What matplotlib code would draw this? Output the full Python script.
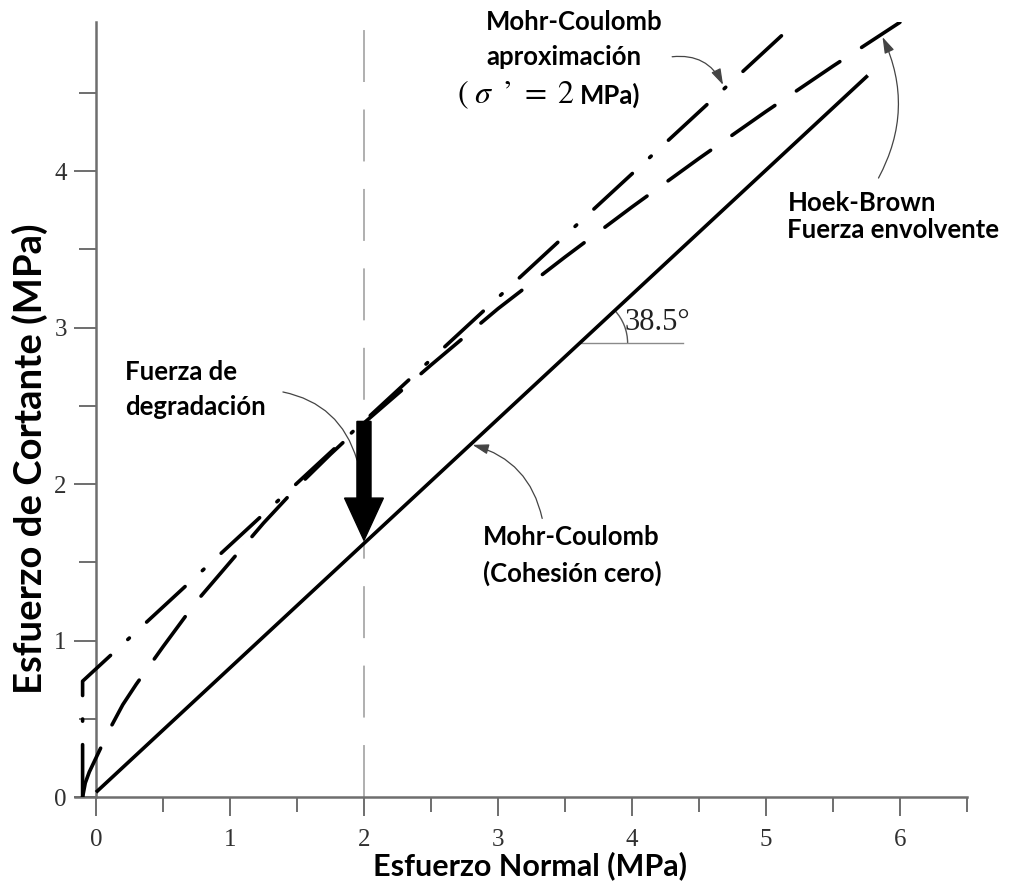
import numpy as np
import matplotlib
matplotlib.use("Agg")
import matplotlib.pyplot as plt
from matplotlib.patches import FancyArrow, Arc
from matplotlib.transforms import ScaledTranslation
from matplotlib.ticker import MultipleLocator

# ---------------- data ----------------
# Mohr-Coulomb, zero cohesion (phi = 38.5 deg)
mc_zero_x = [0.0, 5.76]
mc_zero_y = [0.03, 4.61]

# Mohr-Coulomb approximation tangent at sigma' = 2 MPa (with tension cut-off)
mc_apx_x = [-0.10, -0.10, 5.25]
mc_apx_y = [0.0, 0.74, 4.97]

# Hoek-Brown strength envelope
hb_x = [-0.10, -0.08, -0.05, 0.0, 0.05, 0.10, 0.20, 0.30, 0.40, 0.50, 0.75,
        1.00, 1.25, 1.50, 1.75, 2.00, 2.50, 3.00, 3.50, 4.00, 4.50, 5.00,
        5.50, 6.00]
hb_y = [0.0, 0.09, 0.16, 0.25, 0.34, 0.43, 0.59, 0.72, 0.84, 0.96, 1.25,
        1.50, 1.75, 1.98, 2.19, 2.39, 2.76, 3.12, 3.45, 3.77, 4.08, 4.38,
        4.67, 4.95]

sigma_ref = 2.0            # MPa, vertical reference line
tau_top = 2.40             # tangent MC at sigma_ref
tau_bottom = 1.64          # zero-cohesion MC at sigma_ref
phi_label = "38.5°"

x_major = [0, 1, 2, 3, 4, 5, 6]
y_major = [0, 1, 2, 3, 4]

# ---------------- figure ----------------
fig = plt.figure(figsize=(10.09, 8.93), dpi=100)
ax = fig.add_axes([0.0739, 0.1075, 0.8844, 0.8675])
ax.set_xlim(-0.16, 6.5)
ax.set_ylim(0, 4.95)

spine_c = "#6e6e6e"
for s in ["top", "right"]:
    ax.spines[s].set_visible(False)
ax.spines["left"].set_position(("data", 0))
for s in ["left", "bottom"]:
    ax.spines[s].set_color(spine_c)
    ax.spines[s].set_linewidth(1.8)

ax.set_xticks(x_major)
ax.set_yticks(y_major)
ax.xaxis.set_minor_locator(MultipleLocator(0.5))
ax.yaxis.set_minor_locator(MultipleLocator(0.5))
ax.tick_params(axis="x", which="major", direction="out", length=14, width=1.4,
               color=spine_c, pad=9, labelsize=18, labelcolor="#303030")
ax.tick_params(axis="x", which="minor", direction="out", length=11, width=1.4,
               color=spine_c)
ax.tick_params(axis="y", which="major", direction="out", length=16, width=1.4,
               color=spine_c, pad=5, labelsize=18, labelcolor="#303030")
ax.tick_params(axis="y", which="minor", direction="out", length=12, width=1.4,
               color=spine_c)
for lab in ax.get_xticklabels() + ax.get_yticklabels():
    lab.set_fontfamily("Liberation Serif")

sans = "Lato"
ax.set_xlabel("Esfuerzo Normal (MPa)", fontfamily=sans, fontweight="bold",
              fontsize=22)
ax.xaxis.set_label_coords(0.5106, -0.070, transform=ax.transAxes)
ax.set_ylabel("Esfuerzo de Cortante (MPa)", fontfamily=sans, fontweight="bold",
              fontsize=27.5)
ax.yaxis.set_label_coords(-0.030, 0.437, transform=ax.transAxes)

# reference vertical line
ax.plot([sigma_ref, sigma_ref], [0, 4.95], color="#9a9a9a", lw=1.1,
        dashes=(34, 18), zorder=1)

# curves
ax.plot(mc_zero_x, mc_zero_y, color="black", lw=2.6, solid_capstyle="butt", zorder=3)
ax.plot(hb_x, hb_y, color="black", lw=2.6, dashes=(14.5, 7.2),
        dash_capstyle="round", zorder=3)
ax.plot(mc_apx_x, mc_apx_y, color="black", lw=2.6, dashes=(14.5, 6.5, 0.6, 6.5),
        dash_capstyle="round", zorder=3)

# big arrow (degradation)
ax.add_patch(FancyArrow(sigma_ref, tau_top, 0, tau_bottom - tau_top,
                        width=0.105, head_width=0.29, head_length=0.27,
                        length_includes_head=True, color="black", zorder=4))

# angle marker
y_ang = 2.90
x_ang = (y_ang - mc_zero_y[0]) / ((mc_zero_y[1] - mc_zero_y[0]) / (mc_zero_x[1] - mc_zero_x[0]))
ax.plot([x_ang, 4.38], [y_ang, y_ang], color="#8a8a8a", lw=1.0, zorder=2)
fig.canvas.draw()
p0 = ax.transData.transform((mc_zero_x[0], mc_zero_y[0]))
p1 = ax.transData.transform((mc_zero_x[1], mc_zero_y[1]))
ang_disp = np.degrees(np.arctan2(p1[1] - p0[1], p1[0] - p0[0]))
arc_tr = fig.dpi_scale_trans + ScaledTranslation(x_ang, y_ang, ax.transData)
ax.add_patch(Arc((0, 0), 0.96, 0.96, theta1=0, theta2=ang_disp, color="#555555",
                 lw=1.0, transform=arc_tr))
ax.text(4.19, 3.035, phi_label, fontfamily="Liberation Serif", fontsize=22,
        ha="center", va="center", color="#222222")

# labels
lab_kw = dict(fontfamily=sans, fontweight="bold", fontsize=18.5, color="black",
              ha="left", va="baseline")
ax.text(2.91, 4.90, "Mohr-Coulomb", **lab_kw)
ax.text(2.91, 4.68, "aproximación", **lab_kw)
ax.text(3.57, 4.43, r"$(\;\sigma\;\;$’$\;=\;2$", fontsize=23, ha="right",
        va="baseline", fontfamily="STIXGeneral", math_fontfamily="stix")
ax.text(3.61, 4.43, "MPa)", **lab_kw)

ax.text(5.16, 3.745, "Hoek-Brown", **lab_kw)
ax.text(5.16, 3.57, "Fuerza envolvente", **lab_kw)

ax.text(0.216, 2.665, "Fuerza de", **lab_kw)
ax.text(0.216, 2.44, "degradación", **lab_kw)

ax.text(2.89, 1.61, "Mohr-Coulomb", **lab_kw)
ax.text(2.89, 1.374, "(Cohesión cero)", **lab_kw)

# leader lines
arrow_kw = dict(arrowstyle="-|>,head_length=0.7,head_width=0.22",
                color="#444444", lw=0.9, mutation_scale=14, shrinkA=0, shrinkB=0)
ax.annotate("", xy=(4.68, 4.55), xytext=(4.30, 4.73),
            arrowprops=dict(connectionstyle="arc3,rad=-0.35", **arrow_kw))
ax.annotate("", xy=(5.87, 4.856), xytext=(5.84, 3.955),
            arrowprops=dict(connectionstyle="arc3,rad=0.25", **arrow_kw))
ax.annotate("", xy=(2.81, 2.25), xytext=(3.33, 1.78),
            arrowprops=dict(connectionstyle="arc3,rad=0.3", **arrow_kw))
ax.annotate("", xy=(1.948, 2.153), xytext=(1.395, 2.588),
            arrowprops=dict(arrowstyle="-", color="#444444", lw=0.9,
                            connectionstyle="arc3,rad=-0.3", shrinkA=0, shrinkB=0))

fig.savefig("out.png", dpi=100)
